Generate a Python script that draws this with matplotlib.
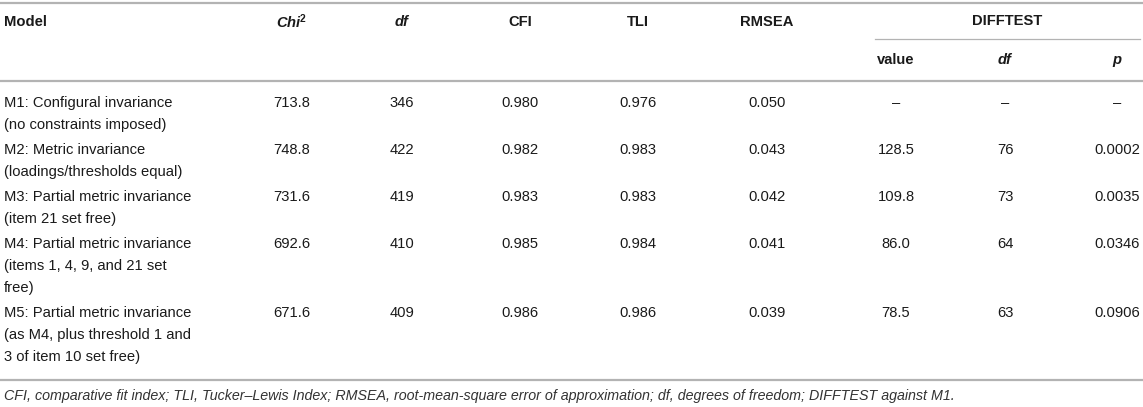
import matplotlib
matplotlib.use("Agg")
from matplotlib import pyplot as plt

models = [
    "M1: Configural invariance\n(no constraints imposed)",
    "M2: Metric invariance\n(loadings/thresholds equal)",
    "M3: Partial metric invariance\n(item 21 set free)",
    "M4: Partial metric invariance\n(items 1, 4, 9, and 21 set\nfree)",
    "M5: Partial metric invariance\n(as M4, plus threshold 1 and\n3 of item 10 set free)",
]
chi2 = [713.8, 748.8, 731.6, 692.6, 671.6]
df = [346, 422, 419, 410, 409]
cfi = [0.980, 0.982, 0.983, 0.985, 0.986]
tli = [0.976, 0.983, 0.983, 0.984, 0.986]
rmsea = [0.050, 0.043, 0.042, 0.041, 0.039]
diff_value = [None, 128.5, 109.8, 86.0, 78.5]
diff_df = [None, 76, 73, 64, 63]
diff_p = [None, 0.0002, 0.0035, 0.0346, 0.0906]

footnote = ("CFI, comparative fit index; TLI, Tucker\u2013Lewis Index; RMSEA, "
            "root-mean-square error of approximation; df, degrees of freedom; "
            "DIFFTEST against M1.")

W, H = 1143, 407
TXT = "#1a1a1a"
LINE = "#b3b3b3"

plt.rcParams["font.family"] = ["Liberation Sans", "DejaVu Sans"]
plt.rcParams["mathtext.fontset"] = "custom"
plt.rcParams["mathtext.rm"] = "Liberation Sans"
plt.rcParams["mathtext.it"] = "Liberation Sans:italic"
plt.rcParams["mathtext.bf"] = "Liberation Sans:bold"
plt.rcParams["mathtext.bfit"] = "Liberation Sans:bold:italic"

fig = plt.figure(figsize=(W / 100, H / 100), dpi=100)
FS = 10.6


def put(x, y, s, ha="center", **kw):
    kw.setdefault("fontsize", FS)
    kw.setdefault("color", TXT)
    fig.text(x / W, 1 - y / H, s, ha=ha, va="center", **kw)


def hline(y, x0=0, x1=W, lw=1.6, color=LINE):
    fig.add_artist(plt.Line2D([x0 / W, x1 / W], [1 - y / H, 1 - y / H],
                              color=color, lw=lw, transform=fig.transFigure))


cols = [292, 402, 520, 638, 767, 896, 1005, 1117]

# header
hline(3)
hline(39, 875, 1140, lw=0.9)
hline(81)
put(4, 22, "Model", ha="left", fontweight="bold")
put(cols[0], 22, r"$\mathbfit{Chi}^{\mathbf{2}}$", fontsize=FS)
put(cols[1], 22, "df", fontweight="bold", fontstyle="italic")
put(cols[2], 22, "CFI", fontweight="bold")
put(cols[3], 22, "TLI", fontweight="bold")
put(cols[4], 22, "RMSEA", fontweight="bold")
put((875 + 1140) / 2, 21, "DIFFTEST", fontweight="bold")
put(cols[5], 60, "value", fontweight="bold")
put(cols[6], 60, "df", fontweight="bold", fontstyle="italic")
put(cols[7], 60, "p", fontweight="bold", fontstyle="italic")


def fmt(v, f):
    return "\u2013" if v is None else format(v, f)


pitch, gap = 22, 25
y = 103
for i, m in enumerate(models):
    lines = m.split("\n")
    for k, ln in enumerate(lines):
        put(4, y + k * pitch, ln, ha="left")
    vals = [fmt(chi2[i], ".1f"), str(df[i]), fmt(cfi[i], ".3f"),
            fmt(tli[i], ".3f"), fmt(rmsea[i], ".3f"),
            fmt(diff_value[i], ".1f"), fmt(diff_df[i], "d"),
            fmt(diff_p[i], ".4f")]
    for x, v in zip(cols, vals):
        put(x, y, v)
    y += (len(lines) - 1) * pitch + gap

hline(380)
put(4, 396, footnote, ha="left", fontstyle="italic", fontsize=10.3, color="#333333")

fig.savefig("out.png", dpi=100)
